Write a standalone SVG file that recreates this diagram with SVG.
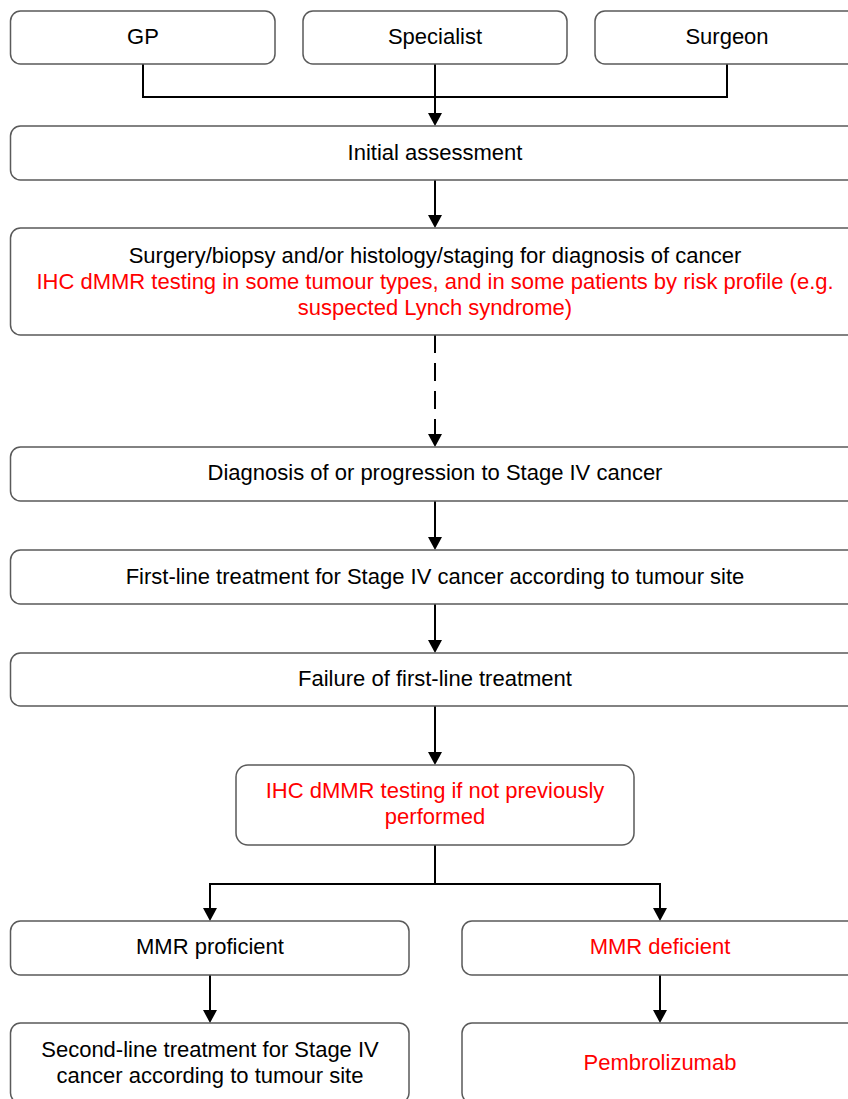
<svg xmlns="http://www.w3.org/2000/svg" width="848" height="1099" viewBox="0 0 848 1099">
<style>
.box{fill:#fff;stroke:#5a5a5a;stroke-width:1.5}
.t{font-family:"Liberation Sans",Arial,sans-serif;font-size:22px;fill:#000;text-anchor:middle}
.r{fill:#ff0000}
.c{fill:none;stroke:#000;stroke-width:2}
.d{stroke-dasharray:18 10}
</style>
<defs>
<marker id="ah" viewBox="0 0 13 14" refX="5" refY="7" markerWidth="13" markerHeight="14" markerUnits="userSpaceOnUse" orient="auto">
<path d="M0,0 L13,7 L0,14 z" fill="#000"/>
</marker>
</defs>
<rect width="848" height="1099" fill="#fff"/>
<g id="connectors">
<path class="c" d="M143,64 V97 H727 V64"/>
<path class="c" d="M435,64 V118" marker-end="url(#ah)"/>
<path class="c" d="M435,180 V220" marker-end="url(#ah)"/>
<path class="c d" d="M435,335 V439" marker-end="url(#ah)"/>
<path class="c" d="M435,501 V542" marker-end="url(#ah)"/>
<path class="c" d="M435,604 V645" marker-end="url(#ah)"/>
<path class="c" d="M435,706 V757" marker-end="url(#ah)"/>
<path class="c" d="M435,845 V884"/>
<path class="c" d="M210,913 V884 H660 V913" marker-end="url(#ah)"/>
<path class="c" d="M210,884 V913" marker-end="url(#ah)"/>
<path class="c" d="M210,975 V1015" marker-end="url(#ah)"/>
<path class="c" d="M660,975 V1015" marker-end="url(#ah)"/>
</g>
<g id="gp"><rect class="box" x="10.5" y="11" width="264.5" height="53" rx="10"/><text class="t" x="143" y="44">GP</text></g>
<g id="specialist"><rect class="box" x="303" y="11" width="264" height="53" rx="10"/><text class="t" x="435" y="44">Specialist</text></g>
<g id="surgeon"><rect class="box" x="595" y="11" width="264" height="53" rx="10"/><text class="t" x="727" y="44">Surgeon</text></g>
<g id="initial"><rect class="box" x="10.5" y="126" width="850" height="54" rx="10"/><text class="t" x="435" y="160">Initial assessment</text></g>
<g id="surgery"><rect class="box" x="10.5" y="228" width="850" height="107" rx="10"/>
<text class="t" x="435" y="263">Surgery/biopsy and/or histology/staging for diagnosis of cancer</text>
<text class="t r" x="435" y="289">IHC dMMR testing in some tumour types, and in some patients by risk profile (e.g.</text>
<text class="t r" x="435" y="315">suspected Lynch syndrome)</text></g>
<g id="diagnosis"><rect class="box" x="10.5" y="447" width="850" height="54" rx="10"/><text class="t" x="435" y="480">Diagnosis of or progression to Stage IV cancer</text></g>
<g id="firstline"><rect class="box" x="10.5" y="550" width="850" height="54" rx="10"/><text class="t" x="435" y="584">First-line treatment for Stage IV cancer according to tumour site</text></g>
<g id="failure"><rect class="box" x="10.5" y="653" width="850" height="53" rx="10"/><text class="t" x="435" y="686">Failure of first-line treatment</text></g>
<g id="ihc"><rect class="box" x="236" y="765" width="398" height="80" rx="12"/>
<text class="t r" x="435" y="798">IHC dMMR testing if not previously</text>
<text class="t r" x="435" y="824">performed</text></g>
<g id="proficient"><rect class="box" x="10.5" y="921" width="398.5" height="54" rx="10"/><text class="t" x="210" y="954">MMR proficient</text></g>
<g id="deficient"><rect class="box" x="462" y="921" width="398" height="54" rx="10"/><text class="t r" x="660" y="954">MMR deficient</text></g>
<g id="secondline"><rect class="box" x="10.5" y="1023" width="398.5" height="80" rx="10"/>
<text class="t" x="210" y="1057">Second-line treatment for Stage IV</text>
<text class="t" x="210" y="1083">cancer according to tumour site</text></g>
<g id="pembro"><rect class="box" x="462" y="1023" width="398" height="80" rx="10"/><text class="t r" x="660" y="1070">Pembrolizumab</text></g>
</svg>
